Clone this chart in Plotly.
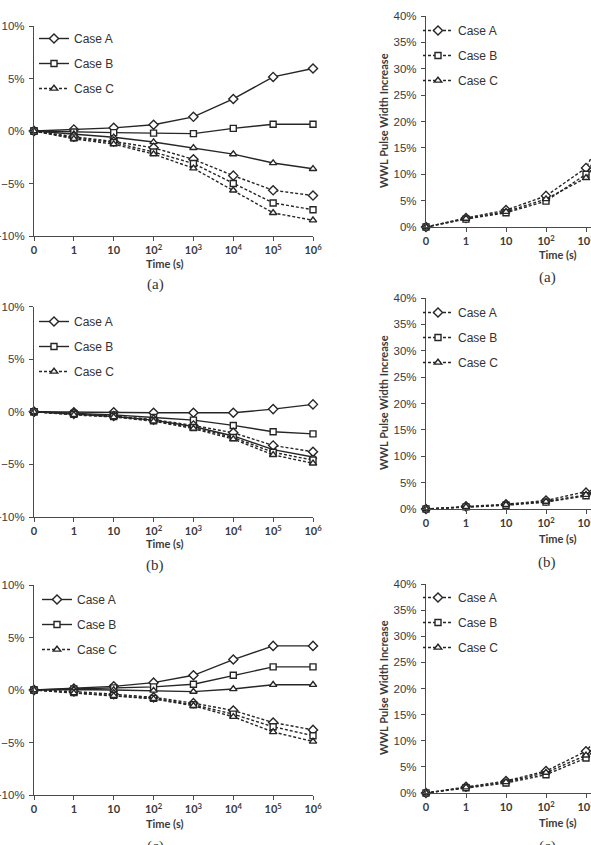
import plotly.graph_objects as go

# ---------------- data ----------------
x_idx = [0, 1, 2, 3, 4, 5, 6, 7]
tick_text = ["0", "1", "10", "10<sup>2</sup>", "10<sup>3</sup>",
             "10<sup>4</sup>", "10<sup>5</sup>", "10<sup>6</sup>"]
case_names = ["Case A", "Case B", "Case C"]

# left column (a)
la_solid_A = [0, 0.15, 0.3, 0.6, 1.35, 3.05, 5.15, 5.95]
la_solid_B = [0, -0.1, -0.15, -0.2, -0.25, 0.25, 0.65, 0.65]
la_solid_C = [0, -0.3, -0.6, -1.05, -1.6, -2.2, -3.05, -3.6]
la_dash_A = [0, -0.55, -1.0, -1.6, -2.7, -4.25, -5.65, -6.15]
la_dash_B = [0, -0.65, -1.1, -2.0, -3.1, -5.0, -6.85, -7.5]
la_dash_C = [0, -0.75, -1.25, -2.2, -3.55, -5.65, -7.8, -8.5]
# left column (b)
lb_solid_A = [0, -0.05, -0.05, -0.1, -0.1, -0.1, 0.25, 0.7]
lb_solid_B = [0, -0.15, -0.3, -0.55, -0.8, -1.3, -1.9, -2.1]
lb_solid_C = [0, -0.25, -0.45, -0.8, -1.4, -2.3, -3.6, -4.3]
lb_dash_A = [0, -0.2, -0.4, -0.75, -1.3, -2.0, -3.2, -3.8]
lb_dash_B = [0, -0.25, -0.45, -0.85, -1.5, -2.45, -3.85, -4.6]
lb_dash_C = [0, -0.3, -0.5, -0.9, -1.6, -2.6, -4.1, -4.9]
# left column (c)
lc_solid_A = [0, 0.15, 0.35, 0.7, 1.4, 2.9, 4.2, 4.2]
lc_solid_B = [0, 0.1, 0.2, 0.3, 0.55, 1.4, 2.2, 2.2]
lc_solid_C = [0, 0.05, 0.0, -0.05, -0.15, 0.1, 0.5, 0.5]
lc_dash_A = [0, -0.15, -0.4, -0.7, -1.25, -1.95, -3.1, -3.8]
lc_dash_B = [0, -0.25, -0.5, -0.8, -1.4, -2.3, -3.5, -4.35]
lc_dash_C = [0, -0.3, -0.55, -0.85, -1.5, -2.55, -4.0, -4.9]
# right column (a)
ra_A = [0, 1.7, 3.2, 5.9, 11.2, 26, 36, 39]
ra_B = [0, 1.5, 2.7, 4.9, 10.0, 23, 33, 37]
ra_C = [0, 1.6, 2.9, 5.3, 9.3, 21, 31, 35]
# right column (b)
rb_A = [0, 0.5, 0.9, 1.6, 3.1, 5.0, 8.0, 10.0]
rb_B = [0, 0.4, 0.7, 1.3, 2.5, 4.3, 7.0, 9.0]
rb_C = [0, 0.4, 0.8, 1.4, 2.7, 4.6, 7.5, 9.5]
# right column (c)
rc_A = [0, 1.2, 2.3, 4.2, 8.0, 17, 26, 32]
rc_B = [0, 1.0, 1.9, 3.5, 6.7, 14, 22, 28]
rc_C = [0, 1.1, 2.1, 3.9, 7.2, 15, 24, 30]

# ---------------- style ----------------
W, H = 591, 845
LINE = "#262626"
AX = "#4a4a4a"
SYMS = ["diamond", "square", "triangle-up"]
SIZES = [7, 6, 6.5]
DASH = "3px,2px"


def px_x(p):
    return p / W


def px_y(p):
    return 1 - p / H


fig = go.Figure()

panels = [
    ("", "legend", [(la_solid_A, 0, False, True), (la_solid_B, 1, False, True),
                    (la_solid_C, 2, False, False), (la_dash_A, 0, True, False),
                    (la_dash_B, 1, True, False), (la_dash_C, 2, True, True)]),
    ("2", "legend2", [(ra_A, 0, True, True), (ra_B, 1, True, True), (ra_C, 2, True, True)]),
    ("3", "legend3", [(lb_solid_A, 0, False, True), (lb_solid_B, 1, False, True),
                      (lb_solid_C, 2, False, False), (lb_dash_A, 0, True, False),
                      (lb_dash_B, 1, True, False), (lb_dash_C, 2, True, True)]),
    ("4", "legend4", [(rb_A, 0, True, True), (rb_B, 1, True, True), (rb_C, 2, True, True)]),
    ("5", "legend5", [(lc_solid_A, 0, False, True), (lc_solid_B, 1, False, True),
                      (lc_solid_C, 2, False, False), (lc_dash_A, 0, True, False),
                      (lc_dash_B, 1, True, False), (lc_dash_C, 2, True, True)]),
    ("6", "legend6", [(rc_A, 0, True, True), (rc_B, 1, True, True), (rc_C, 2, True, True)]),
]

for suf, leg, series in panels:
    for vals, ci, dashed, show in series:
        fig.add_trace(go.Scatter(
            x=x_idx, y=vals, mode="lines+markers",
            name=case_names[ci], legend=leg, legendgroup=leg + case_names[ci],
            showlegend=show, cliponaxis=False,
            xaxis="x" + suf, yaxis="y" + suf,
            line=dict(color=LINE, width=1.4, dash=DASH if dashed else "solid"),
            marker=dict(symbol=SYMS[ci], size=SIZES[ci], color="white",
                        line=dict(color=LINE, width=1.4)),
        ))

left_xdom = [px_x(34), px_x(313)]
right_xdom = [px_x(426), 1.0]
ydoms = {
    "": [px_y(236), px_y(26)],
    "2": [px_y(227), px_y(16)],
    "3": [px_y(517), px_y(306.5)],
    "4": [px_y(509), px_y(298)],
    "5": [px_y(795), px_y(585)],
    "6": [px_y(793), px_y(584)],
}

layout = dict(
    template="none",
    width=W, height=H, margin=dict(l=0, r=0, t=0, b=0, autoexpand=False),
    paper_bgcolor="white", plot_bgcolor="white",
    showlegend=True,
)

tickfont_y = dict(family="Liberation Sans, Arial", size=11.5, color="#3a3a3a")
tickfont_x = dict(family="Lato, Liberation Sans", size=11, color="#3a3a3a", weight="bold")

for suf in ["", "2", "3", "4", "5", "6"]:
    right = suf in ("2", "4", "6")
    xa = dict(
        domain=right_xdom if right else left_xdom,
        range=[0, 4.125] if right else [0, 7],
        anchor="y" + suf, tickmode="array", tickvals=x_idx, ticktext=tick_text,
        showline=True, linecolor=AX, linewidth=1.2, ticks="outside", ticklen=4,
        tickcolor=AX, tickwidth=1.2, showgrid=False, zeroline=False,
        tickfont=tickfont_x, fixedrange=True, automargin=False,
        ticklabeloverflow="allow",
    )
    ya = dict(
        domain=ydoms[suf],
        range=[0, 40] if right else [-10, 10],
        anchor="x" + suf, tickmode="linear", tick0=0, dtick=5, ticksuffix="%",
        showline=True, linecolor=AX, linewidth=1.2, ticks="outside", ticklen=4,
        tickcolor=AX, tickwidth=1.2, showgrid=False, zeroline=False,
        tickfont=tickfont_y, ticklabelstandoff=2, fixedrange=True, automargin=False,
        ticklabeloverflow="allow",
    )
    layout["xaxis" + suf] = xa
    layout["yaxis" + suf] = ya

legend_pos = {
    "legend": (34, 24),
    "legend2": (418, 16),
    "legend3": (34, 307),
    "legend4": (418, 298),
    "legend5": (37, 585),
    "legend6": (418, 583),
}
for leg, (lx, ly) in legend_pos.items():
    layout[leg] = dict(
        x=px_x(lx), y=px_y(ly), xanchor="left", yanchor="top",
        bgcolor="rgba(0,0,0,0)", borderwidth=0, traceorder="grouped",
        tracegroupgap=6, itemwidth=30,
        font=dict(family="Liberation Sans, Arial", size=12, color="#333333"),
    )

fig.update_layout(**layout)

ann = []
time_pos = [(165, 263), (558, 254), (165, 543), (558, 538), (165, 823), (558, 822)]
for (tx, ty) in time_pos:
    ann.append(dict(text="<b>Time (s)</b>", x=px_x(tx), y=px_y(ty), xref="paper", yref="paper",
                    showarrow=False, xanchor="center", yanchor="middle",
                    font=dict(family="Lato, Liberation Sans", size=11, color="#3a3a3a")))
lab_pos = [("(a)", 155, 284), ("(a)", 547, 277), ("(b)", 155, 565), ("(b)", 547, 562),
           ("(c)", 155, 846), ("(c)", 547, 846)]
for (t, tx, ty) in lab_pos:
    ann.append(dict(text=t, x=px_x(tx), y=px_y(ty), xref="paper", yref="paper",
                    showarrow=False, xanchor="center", yanchor="middle",
                    font=dict(family="Liberation Serif, Times New Roman", size=15, color="#333333")))
ytitle_pos = [(383, 121), (383, 403), (383, 688)]
for (tx, ty) in ytitle_pos:
    ann.append(dict(text="<b>WWL Pulse Width Increase</b>", x=px_x(tx), y=px_y(ty),
                    xref="paper", yref="paper", showarrow=False, textangle=-90,
                    xanchor="center", yanchor="middle",
                    font=dict(family="Lato, Liberation Sans", size=11, color="#3a3a3a")))
fig.update_layout(annotations=ann)

fig.write_html("out.html")
